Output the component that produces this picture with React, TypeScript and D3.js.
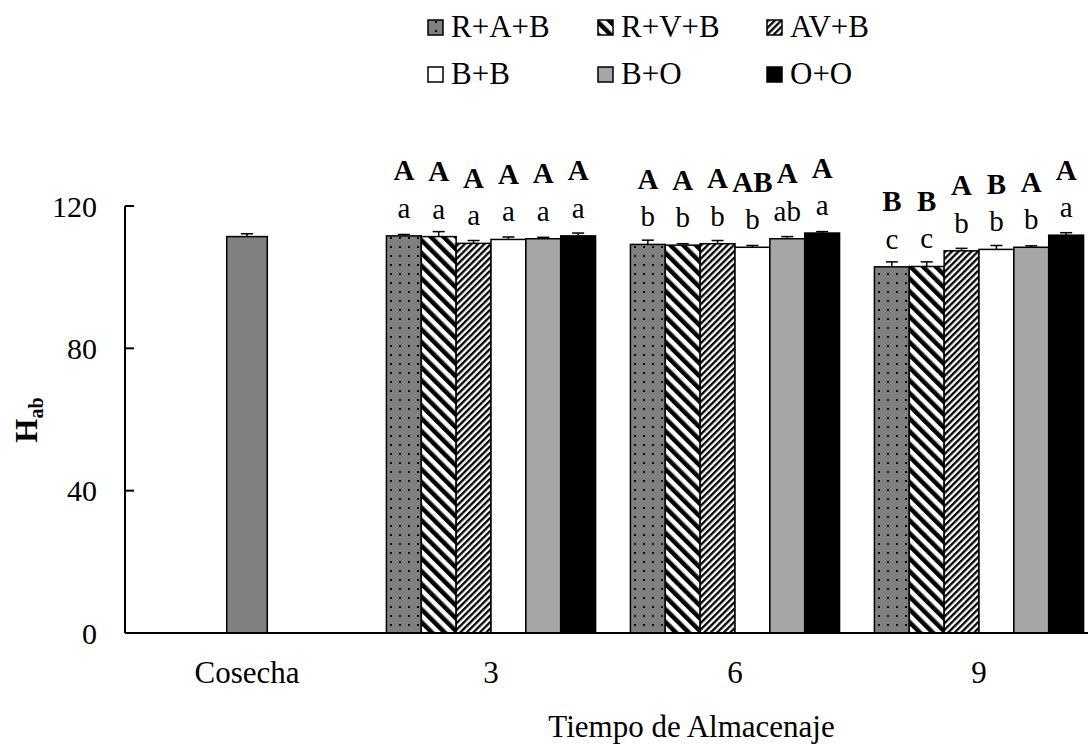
import React from "react";
import * as d3 from "d3";

const categories = ["Cosecha", "3", "6", "9"];
const series = ["R+A+B", "R+V+B", "AV+B", "B+B", "B+O", "O+O"];
const yTicks = [0, 40, 80, 120];

const cosechaMean = 111.4;
const cosechaErr = 0.8;

const meanDay3 = [111.6, 111.4, 109.5, 110.6, 110.8, 111.6];
const errDay3 = [0.4, 1.4, 0.8, 0.7, 0.4, 0.8];
const lowerDay3 = ["a", "a", "a", "a", "a", "a"];
const upperDay3 = ["A", "A", "A", "A", "A", "A"];

const meanDay6 = [109.2, 109.0, 109.4, 108.4, 110.8, 112.4];
const errDay6 = [1.2, 0.4, 0.9, 0.5, 0.6, 0.4];
const lowerDay6 = ["b", "b", "b", "b", "ab", "a"];
const upperDay6 = ["A", "A", "A", "AB", "A", "A"];

const meanDay9 = [102.9, 103.0, 107.4, 107.8, 108.4, 111.8];
const errDay9 = [1.4, 1.3, 0.7, 1.1, 0.4, 0.7];
const lowerDay9 = ["c", "c", "b", "b", "b", "a"];
const upperDay9 = ["B", "B", "A", "B", "A", "A"];

const groups = [
  { cat: "3", mean: meanDay3, err: errDay3, lower: lowerDay3, upper: upperDay3 },
  { cat: "6", mean: meanDay6, err: errDay6, lower: lowerDay6, upper: upperDay6 },
  { cat: "9", mean: meanDay9, err: errDay9, lower: lowerDay9, upper: upperDay9 },
];

const fills = ["url(#dots)", "url(#wide)", "url(#narrow)", "#ffffff", "#a6a6a6", "#000000"];
const FONT = "'Liberation Serif', 'Times New Roman', serif";

export default function App() {
  const W = 1088, H = 744;
  const left = 125, bottom = 633, top = 206;
  const x0 = d3.scaleBand<string>().domain(categories).range([left, left + 244 * 4]).padding(0);
  const x1 = d3.scaleBand<string>().domain(series).range([0, x0.bandwidth()]).paddingOuter(0.5).paddingInner(0);
  const y = d3.scaleLinear().domain([0, 120]).range([bottom, top]);
  const capW = 12;
  const cosW = 40.6;
  const cosX = (x0("Cosecha") as number) + x0.bandwidth() / 2 - cosW / 2;

  const legendCols = [428, 598, 767];
  const legendRows = [20, 67];

  return (
    <svg width={W} height={H} style={{ position: "absolute", left: 0, top: 0, background: "#fff" }} fontFamily={FONT}>
      <defs>
        <pattern id="dots" patternUnits="userSpaceOnUse" width={9} height={9}>
          <rect width={9} height={9} fill="#808080" />
          <rect x={3} y={3} width={2} height={2} fill="#000" />
        </pattern>
        <pattern id="wide" patternUnits="userSpaceOnUse" width={9} height={9} patternTransform="rotate(-45)">
          <rect width={9} height={9} fill="#fff" />
          <rect width={4.5} height={9} fill="#000" />
        </pattern>
        <pattern id="narrow" patternUnits="userSpaceOnUse" width={4.6} height={4.6} patternTransform="rotate(45)">
          <rect width={4.6} height={4.6} fill="#fff" />
          <rect width={2.3} height={4.6} fill="#000" />
        </pattern>
      </defs>

      {/* legend */}
      {series.map((s, i) => {
        const cx = legendCols[i % 3];
        const ry = legendRows[Math.floor(i / 3)];
        return (
          <g key={s}>
            <rect x={cx} y={ry} width={15} height={15} fill={fills[i]} stroke="#000" strokeWidth={1.5} />
            <text x={cx + 23} y={ry + 17} fontSize={31} fill="#000">{s}</text>
          </g>
        );
      })}

      {/* y ticks and labels */}
      {yTicks.map((t) => (
        <g key={t}>
          <line x1={left} x2={left + 9} y1={y(t)} y2={y(t)} stroke="#000" strokeWidth={2} />
          <text x={97} y={y(t)} dy="0.35em" textAnchor="end" fontSize={30} fill="#000">{t}</text>
        </g>
      ))}

      {/* cosecha bar */}
      <rect x={cosX} y={y(cosechaMean)} width={cosW} height={bottom - y(cosechaMean)} fill="#808080" stroke="#000" strokeWidth={1.5} />
      <line x1={cosX + cosW / 2} x2={cosX + cosW / 2} y1={y(cosechaMean)} y2={y(cosechaMean + cosechaErr)} stroke="#000" strokeWidth={1.5} />
      <line x1={cosX + cosW / 2 - capW / 2} x2={cosX + cosW / 2 + capW / 2} y1={y(cosechaMean + cosechaErr)} y2={y(cosechaMean + cosechaErr)} stroke="#000" strokeWidth={1.5} />

      {/* grouped bars */}
      {groups.map((g) => (
        <g key={g.cat} transform={`translate(${x0(g.cat)},0)`}>
          {series.map((s, i) => {
            const bx = x1(s) as number;
            const bw = x1.bandwidth();
            const cx = bx + bw / 2;
            const yt = y(g.mean[i]);
            const ye = y(g.mean[i] + g.err[i]);
            return (
              <g key={s}>
                <rect x={bx} y={yt} width={bw} height={bottom - yt} fill={fills[i]} stroke="#000" strokeWidth={1.5} />
                <line x1={cx} x2={cx} y1={yt} y2={ye} stroke="#000" strokeWidth={1.5} />
                <line x1={cx - capW / 2} x2={cx + capW / 2} y1={ye} y2={ye} stroke="#000" strokeWidth={1.5} />
                <text x={cx} y={yt - 18} textAnchor="middle" fontSize={29} fill="#000">{g.lower[i]}</text>
                <text x={cx} y={yt - 55.5} textAnchor="middle" fontSize={29} fontWeight="bold" fill="#000">{g.upper[i]}</text>
              </g>
            );
          })}
        </g>
      ))}

      {/* axes */}
      <line x1={left} x2={W} y1={bottom} y2={bottom} stroke="#000" strokeWidth={2} />
      <line x1={left} x2={left} y1={top} y2={bottom} stroke="#000" strokeWidth={2} />

      {/* x labels */}
      {categories.map((c) => (
        <text key={c} x={(x0(c) as number) + x0.bandwidth() / 2} y={683} textAnchor="middle" fontSize={31} fill="#000">{c}</text>
      ))}

      <text x={691.5} y={737} textAnchor="middle" fontSize={31} fill="#000">Tiempo de Almacenaje</text>

      <text transform={`translate(37,420) rotate(-90)`} textAnchor="middle" fontSize={31} fontWeight="bold" fill="#000">
        H<tspan fontSize={20} dy={6}>ab</tspan>
      </text>
    </svg>
  );
}
